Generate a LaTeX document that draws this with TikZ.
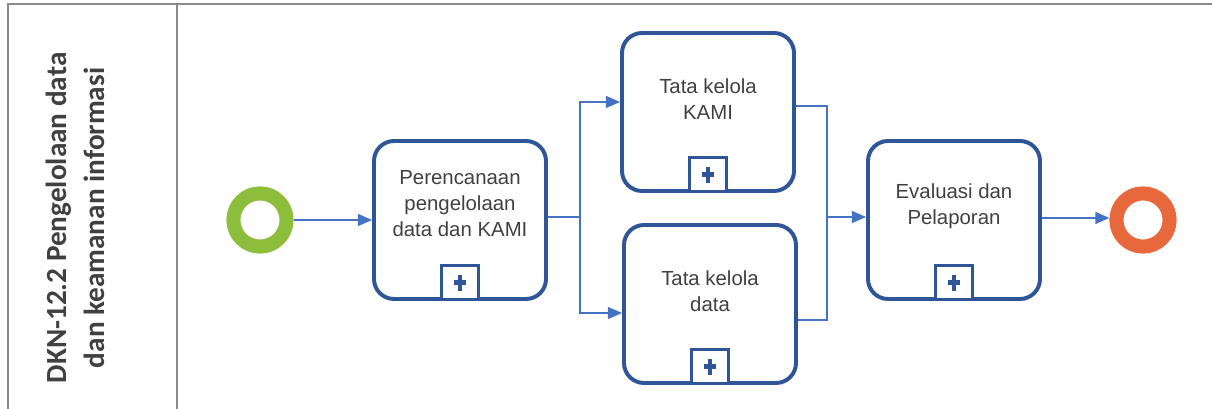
\documentclass[tikz,border=0pt]{standalone}
\usepackage{fontspec}
\setmainfont{Liberation Sans}
\newfontfamily\titlefont{Carlito}
\usetikzlibrary{arrows.meta, positioning}
\definecolor{cbox}{HTML}{2E5597}
\definecolor{cflow}{HTML}{4472C4}
\definecolor{cgreen}{HTML}{8CBE3C}
\definecolor{corange}{HTML}{E8683C}
\definecolor{ctext}{HTML}{404040}
\definecolor{cframe}{HTML}{8A8A8A}
\tikzset{
  task/.style={draw=cbox, line width=2.8pt, rounded corners=0.5cm, minimum width=4.3cm, minimum height=3.95cm},
  subproc/.style={draw=cbox, fill=white, line width=2pt, minimum width=0.92cm, minimum height=0.85cm, inner sep=0pt,
    path picture={\draw[cbox, line width=3.4pt] ([yshift=-0.2cm]path picture bounding box.center) -- ++(0,0.4)
      ([xshift=-0.14cm]path picture bounding box.center) -- ++(0.28,0);}},
  txt/.style={align=center, text=ctext, font=\fontsize{14.5}{18.5}\selectfont},
  event/.style={circle, draw=#1, line width=10pt, minimum size=1.33cm, inner sep=0pt},
  flow/.style={-{Triangle[length=10pt, width=8.5pt]}, draw=cflow, line width=1pt},
  link/.style={draw=cflow, line width=1pt},
  frame/.style={draw=cframe, line width=1pt},
}
\begin{document}
\begin{tikzpicture}
  \useasboundingbox (0,0) rectangle (30.3,10.225);
  % pool and lane
  \draw[frame] (0.2,0) |- (30.3,10.125);
  \draw[frame] (4.425,0) -- (4.425,10.125);
  \node[rotate=90, align=center, text=ctext, font=\titlefont\bfseries\fontsize{20.8}{27}\selectfont] (lane) at (1.875,4.775)
    {DKN-12.2 Pengelolaan data\\dan keamanan informasi};

  % events and tasks
  \node[event=cgreen] (start) at (6.5,4.725) {};
  \node[task] (plan) at (11.5,4.725) {};
  \node[task] (kami) at (17.7,7.425) {};
  \node[task] (data) at (17.75,2.625) {};
  \node[task] (eval) at (23.85,4.725) {};
  \node[event=corange] (end) at (28.575,4.725) {};

  \node[txt] (plantxt) at ([yshift=0.4cm]plan.center) {Perencanaan\\pengelolaan\\data dan KAMI};
  \node[txt] (kamitxt) at ([yshift=0.33cm]kami.center) {Tata kelola\\KAMI};
  \node[txt] (datatxt) at ([yshift=0.33cm]data.center) {Tata kelola\\data};
  \node[txt] (evaltxt) at ([yshift=0.35cm]eval.center) {Evaluasi dan\\Pelaporan};

  \node[subproc, above=0pt of plan.south] (planmark) {};
  \node[subproc, above=0pt of kami.south] (kamimark) {};
  \node[subproc, above=0pt of data.south] (datamark) {};
  \node[subproc, above=0pt of eval.south] (evalmark) {};

  % sequence flows
  \coordinate (split) at (14.5,4.8);
  \coordinate (join) at (20.675,4.8);
  \draw[flow] (start) -- (plan);
  \draw[link] ([yshift=0.075cm]plan.east) -- (split);
  \draw[flow] (split) |- ([yshift=0.25cm]kami.west);
  \draw[flow] (split) |- ([yshift=-0.225cm]data.west);
  \draw[link] ([yshift=0.15cm]kami.east) -| (join);
  \draw[link] ([yshift=-0.4cm]data.east) -| (join);
  \draw[flow] (join) -- (eval.west |- join);
  \draw[flow] ([yshift=0.05cm]eval.east) -- ([yshift=0.05cm]end.west);
\end{tikzpicture}
\end{document}
